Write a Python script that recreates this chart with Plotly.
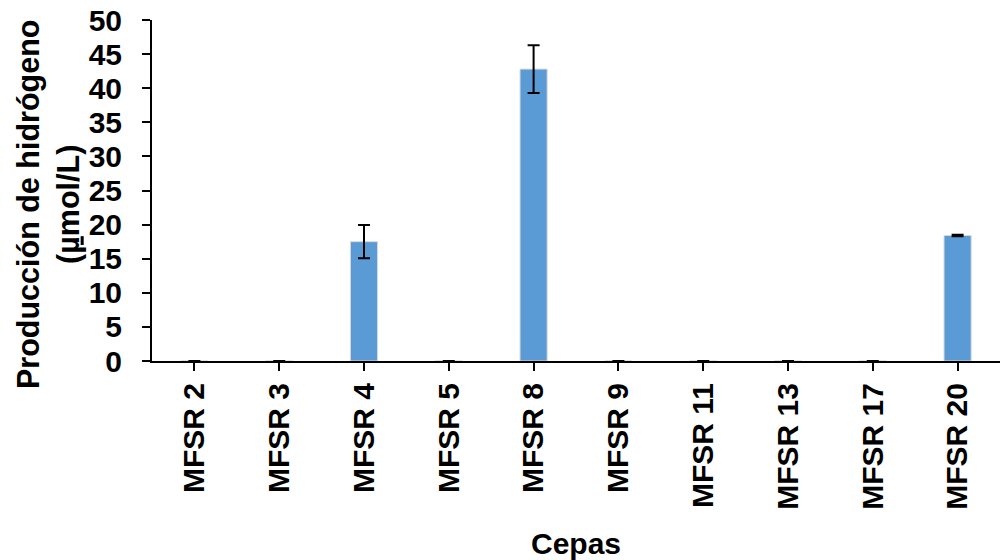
import plotly.graph_objects as go

# Hydrogen production per strain (µmol/L), with standard deviation
cepas = ["MFSR 2", "MFSR 3", "MFSR 4", "MFSR 5", "MFSR 8",
         "MFSR 9", "MFSR 11", "MFSR 13", "MFSR 17", "MFSR 20"]
produccion = [0, 0, 17.5, 0, 42.8, 0, 0, 0, 0, 18.4]
desviacion = [0, 0, 2.45, 0, 3.5, 0, 0, 0, 0, 0.1]
y_ticks = [0, 5, 10, 15, 20, 25, 30, 35, 40, 45, 50]

FONT = "Liberation Sans, Arial, sans-serif"

# no error bar where nothing was produced
barras_error = [d if d > 0 else None for d in desviacion]

fig = go.Figure(
    go.Bar(
        x=cepas,
        y=produccion,
        width=0.32,
        marker=dict(color="#5B9BD5", line=dict(width=1, color="#D9D9D9")),
        error_y=dict(type="data", array=barras_error, visible=True,
                     color="black", thickness=2, width=6),
    )
)

fig.update_layout(
    width=1000,
    height=560,
    margin=dict(l=152, r=0, t=20, b=199),
    paper_bgcolor="white",
    plot_bgcolor="white",
    showlegend=False,
    font=dict(family=FONT, size=30, color="black"),
    xaxis=dict(
        type="category",
        showline=True, linecolor="black", linewidth=2,
        ticks="outside", ticklen=8, tickwidth=2, tickcolor="black",
        tickangle=-90,
        tickfont=dict(family=FONT, size=30, color="black", weight="bold"),
        ticklabelstandoff=0,
        title=dict(text="<b>Cepas</b>", standoff=24,
                   font=dict(family=FONT, size=30, color="black")),
    ),
    yaxis=dict(
        range=[0, 50],
        tickvals=y_ticks,
        showline=True, linecolor="black", linewidth=2,
        showgrid=False, zeroline=False,
        ticks="outside", ticklen=8, tickwidth=2, tickcolor="black",
        tickfont=dict(family=FONT, size=30, color="black", weight="bold"),
        ticklabelstandoff=14,
    ),
    annotations=[
        dict(
            text="<b>Producción de hidrógeno<br>(<u>µ</u>mol/L)</b>",
            textangle=-90,
            xref="paper", yref="paper",
            x=(48 - 152) / 848, y=(361 - 205) / 341,
            xanchor="center", yanchor="middle",
            showarrow=False,
            font=dict(family=FONT, size=30.5, color="black"),
        )
    ],
)

fig.write_html("out.html")
